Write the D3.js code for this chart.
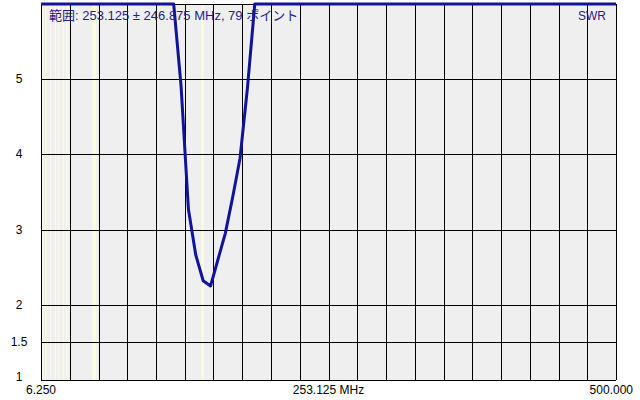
<!DOCTYPE html>
<html><head><meta charset="utf-8">
<script src="https://cdn.jsdelivr.net/npm/d3@7"></script>
<style>html,body{margin:0;padding:0;background:#fff;}svg{display:block;}</style>
</head><body>
<svg id="c" width="640" height="400"></svg>
<script>
// ---- data ----
const title = "範囲: 253.125 ± 246.875 MHz, 79 ポイント";
const seriesName = "SWR";
const fStart = 6.25, fStop = 500.0, nPoints = 79;
const xTickLabels = ["6.250", "253.125 MHz", "500.000"];
const xTickValues = [6.25, 253.125, 500.0];
const yTickValues = [1, 1.5, 2, 3, 4, 5];
const yTickLabels = ["1", "1.5", "2", "3", "4", "5"];
const swr = [
  6,6,6,6,6,6,6,6,6,6,
  6,6,6,6,6,6,6,6,6,4.91,
  3.27,2.66,2.32,2.25,2.6,2.95,3.43,3.95,4.88,6,
  6,6,6,6,6,6,6,6,6,6,
  6,6,6,6,6,6,6,6,6,6,
  6,6,6,6,6,6,6,6,6,6,
  6,6,6,6,6,6,6,6,6,6,
  6,6,6,6,6,6,6,6,6
];
const bands = [[7,7.2],[10.1,10.15],[14,14.35],[18.068,18.168],[21,21.45],[24.89,24.99],[28,29.7],[50,54],[144,146]];

// ---- chart ----
const svg = d3.select("#c");
const x = d3.scaleLinear().domain([fStart, fStop]).range([41, 616]);
const y = d3.scaleLinear().domain([1, 6]).range([380, 4]);
const freqs = d3.range(nPoints).map(i => fStart + i * (fStop - fStart) / (nPoints - 1));

svg.append("rect").attr("x", x(fStart)).attr("y", y(6)).attr("width", x(fStop) - x(fStart)).attr("height", y(1) - y(6)).attr("fill", "#efefef");

svg.selectAll("rect.band").data(bands).join("rect").attr("class", "band")
  .attr("x", d => x(d[0])).attr("y", y(6))
  .attr("width", d => Math.max(1.2, x(d[1]) - x(d[0]))).attr("height", y(1) - y(6))
  .attr("fill", "#fbfbe4");

const gridF = d3.range(21).map(k => fStart + k * (fStop - fStart) / 20);
svg.selectAll("line.vg").data(gridF).join("line").attr("class", "vg")
  .attr("x1", d => Math.round(x(d)) + 0.5).attr("x2", d => Math.round(x(d)) + 0.5)
  .attr("y1", y(6)).attr("y2", y(1)).attr("stroke", "#000").attr("stroke-width", 1);
svg.selectAll("line.hg").data([1, 1.5, 2, 3, 4, 5, 6]).join("line").attr("class", "hg")
  .attr("x1", x(fStart)).attr("x2", x(fStop))
  .attr("y1", d => Math.round(y(d)) + 0.5).attr("y2", d => Math.round(y(d)) + 0.5)
  .attr("stroke", "#000").attr("stroke-width", 1);

const line = d3.line().x((d, i) => x(freqs[i])).y(d => y(Math.min(6, d)));
svg.append("path").datum(swr).attr("d", line).attr("fill", "none")
  .attr("stroke", "#12129a").attr("stroke-width", 3).attr("stroke-linejoin", "round");

const font = "'Liberation Sans', Arial, 'Noto Sans CJK JP', sans-serif";
svg.append("text").attr("x", 49).attr("y", 20).attr("font-family", font).attr("font-size", 13)
  .attr("fill", "#1e1e8c").text(title);
svg.append("text").attr("x", 606).attr("y", 20).attr("text-anchor", "end").attr("font-family", font).attr("font-size", 12)
  .attr("fill", "#1e1e8c").text(seriesName);

svg.selectAll("text.yt").data(yTickValues).join("text").attr("class", "yt")
  .attr("x", 19).attr("y", d => Math.min(y(d) + 4, 381)).attr("text-anchor", "middle")
  .attr("font-family", font).attr("font-size", 12).attr("fill", "#000")
  .text((d, i) => yTickLabels[i]);
const anchors = ["middle", "middle", "end"];
const offs = [0, 0, 17];
svg.selectAll("text.xt").data(xTickValues).join("text").attr("class", "xt")
  .attr("x", (d, i) => x(d) + offs[i]).attr("y", 394).attr("text-anchor", (d, i) => anchors[i])
  .attr("font-family", font).attr("font-size", 12).attr("fill", "#000")
  .text((d, i) => xTickLabels[i]);
</script>
</body></html>
